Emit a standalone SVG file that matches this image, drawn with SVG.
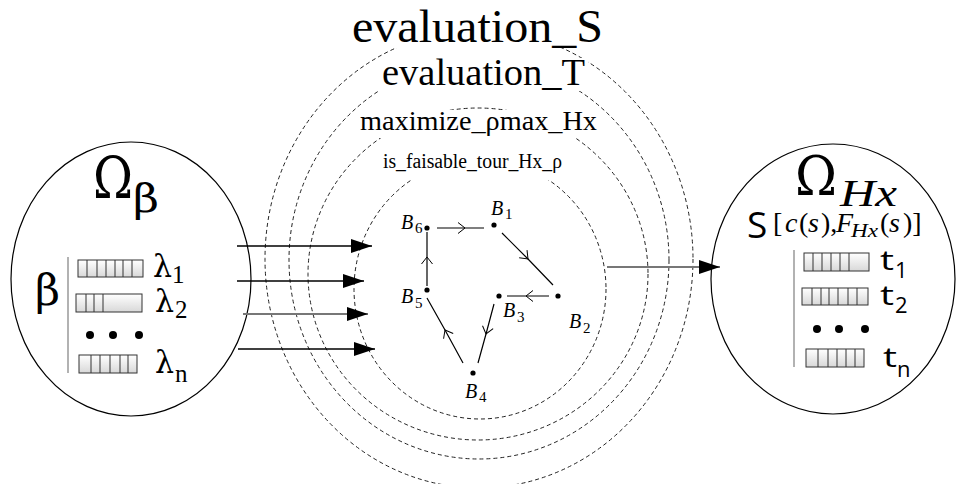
<svg xmlns="http://www.w3.org/2000/svg" width="960" height="484" viewBox="0 0 960 484">
<defs>
<linearGradient id="barg" x1="0" y1="0" x2="0" y2="1">
<stop offset="0" stop-color="#ffffff"/>
<stop offset="1" stop-color="#d8d8d8"/>
</linearGradient>
<marker id="tri" markerUnits="userSpaceOnUse" markerWidth="22" markerHeight="16" refX="21" refY="7" orient="auto">
<path d="M0,0 L21,7 L0,14 Z" fill="#000"/>
</marker>
<marker id="chev" markerUnits="userSpaceOnUse" markerWidth="20" markerHeight="20" refX="10" refY="10" orient="auto">
<path d="M3,4.5 L10,10 L3,15.5" fill="none" stroke="#000" stroke-width="1"/>
</marker>
</defs>
<style>
.serif{font-family:"Liberation Serif","DejaVu Serif",serif;fill:#000}
.greek{font-family:"DejaVu Serif","Liberation Serif",serif;fill:#000}
.sans{font-family:"Open Sans","DejaVu Sans",sans-serif;fill:#000}
.it{font-style:italic}
.dash{fill:none;stroke:#222;stroke-width:1;stroke-dasharray:4 3}
.oval{fill:#fff;stroke:#000;stroke-width:1.2}
.bar{fill:url(#barg);stroke:#333;stroke-width:1}
.cell{stroke:#333;stroke-width:1}
.vl{stroke:#999;stroke-width:1.5}
.arr{stroke:#000;stroke-width:1.3;fill:none;marker-end:url(#tri)}
.arrg{stroke:#777;stroke-width:1.8;fill:none;marker-end:url(#tri)}
.edge{stroke:#000;stroke-width:1.2;fill:none;marker-mid:url(#chev)}
.mask{fill:#fff}
</style>
<rect width="960" height="484" fill="#fff"/>

<g id="evaluation_S">
<ellipse class="dash" cx="479" cy="259" rx="214" ry="229"/>
</g>
<g id="evaluation_T">
<ellipse class="dash" cx="479" cy="260" rx="190" ry="199"/>
</g>
<g id="maximize">
<ellipse class="dash" cx="478" cy="274" rx="170" ry="166"/>
</g>
<g id="is_faisable">
<ellipse class="dash" cx="480" cy="289" rx="126" ry="130"/>
</g>

<g id="labels">
<rect class="mask" x="349" y="2" width="258" height="46"/>
<text class="serif" x="352" y="42" font-size="46" textLength="251" lengthAdjust="spacingAndGlyphs">evaluation_S</text>
<rect class="mask" x="378" y="58" width="210" height="33"/>
<text class="serif" x="382" y="85" font-size="38" textLength="203" lengthAdjust="spacingAndGlyphs">evaluation_T</text>
<rect class="mask" x="356" y="110" width="244" height="28"/>
<text class="serif" x="360" y="130" font-size="27" textLength="237" lengthAdjust="spacingAndGlyphs">maximize_ρmax_Hx</text>
<rect class="mask" x="380" y="150" width="186" height="30"/>
<text class="serif" x="383" y="168" font-size="20" textLength="179" lengthAdjust="spacingAndGlyphs">is_faisable_tour_Hx_ρ</text>
</g>

<g id="omega_beta">
<ellipse class="oval" cx="131" cy="279" rx="120" ry="137"/>
<text class="greek" x="93" y="198" font-size="58" textLength="40" lengthAdjust="spacingAndGlyphs">Ω</text>
<text class="greek" x="133" y="212" font-size="40" textLength="26" lengthAdjust="spacingAndGlyphs">β</text>
<text class="greek" x="35" y="305" font-size="42" textLength="25" lengthAdjust="spacingAndGlyphs">β</text>
<line class="vl" x1="68" y1="257" x2="68" y2="373"/>
<rect class="bar" x="78" y="260" width="65" height="17"/>
<path class="cell" d="M87,260V277M97,260V277M106,260V277M115,260V277M123,260V277M132,260V277"/>
<rect class="bar" x="76" y="294" width="66" height="18"/>
<path class="cell" d="M86,294V312M94,294V312M103,294V312"/>
<circle cx="90" cy="335" r="4"/>
<circle cx="113" cy="335" r="4"/>
<circle cx="139" cy="335" r="4"/>
<rect class="bar" x="79" y="355" width="58" height="18"/>
<path class="cell" d="M91,355V373M100,355V373M110,355V373M120,355V373M128,355V373"/>
<text class="greek" x="153" y="277" font-size="32" textLength="19" lengthAdjust="spacingAndGlyphs">λ</text>
<text class="serif" x="172" y="283" font-size="25">1</text>
<text class="greek" x="155" y="312" font-size="32" textLength="19" lengthAdjust="spacingAndGlyphs">λ</text>
<text class="serif" x="175" y="318" font-size="25">2</text>
<text class="greek" x="155" y="373" font-size="32" textLength="19" lengthAdjust="spacingAndGlyphs">λ</text>
<text class="serif" x="175" y="382" font-size="25">n</text>
</g>

<g id="omega_hx">
<ellipse class="oval" cx="833" cy="279" rx="122" ry="135"/>
<text class="greek" x="795" y="195" font-size="55" textLength="42" lengthAdjust="spacingAndGlyphs">Ω</text>
<text class="serif it" x="840" y="206" font-size="38" textLength="57" lengthAdjust="spacingAndGlyphs">Hx</text>
<text class="sans" x="747" y="238" font-size="37">S</text>
<text class="serif" y="232" font-size="28"><tspan x="773">[</tspan><tspan class="it" x="785">c</tspan><tspan x="799">(</tspan><tspan class="it" x="808">s</tspan><tspan x="821">),</tspan><tspan class="it" x="836">F</tspan></text>
<text class="serif it" x="851" y="237" font-size="18" textLength="27" lengthAdjust="spacingAndGlyphs">Hx</text>
<text class="serif" y="232" font-size="28"><tspan x="880">(</tspan><tspan class="it" x="889">s</tspan><tspan x="903">)]</tspan></text>
<line class="vl" x1="794" y1="250" x2="794" y2="367"/>
<rect class="bar" x="804" y="253" width="65" height="18"/>
<path class="cell" d="M813,253V271M822,253V271M831,253V271M840,253V271M849,253V271"/>
<rect class="bar" x="802" y="288" width="66" height="17"/>
<path class="cell" d="M812,288V305M821,288V305M829,288V305M838,288V305M848,288V305M857,288V305"/>
<circle cx="817" cy="329" r="4"/>
<circle cx="839" cy="329" r="4"/>
<circle cx="865" cy="329" r="4"/>
<rect class="bar" x="806" y="349" width="58" height="18"/>
<path class="cell" d="M818,349V367M828,349V367M837,349V367M846,349V367M855,349V367"/>
<text class="sans" x="880" y="270" font-size="28" textLength="14" lengthAdjust="spacingAndGlyphs">t</text>
<text class="sans" x="895" y="278" font-size="22">1</text>
<text class="sans" x="880" y="305" font-size="28" textLength="14" lengthAdjust="spacingAndGlyphs">t</text>
<text class="sans" x="895" y="313" font-size="22">2</text>
<text class="sans" x="883" y="367" font-size="28" textLength="14" lengthAdjust="spacingAndGlyphs">t</text>
<text class="sans" x="897" y="377" font-size="22">n</text>
</g>

<g id="B1"><circle cx="494" cy="225" r="2.6"/><text class="serif it" x="491" y="215" font-size="20">B</text><text class="serif" x="505" y="219" font-size="15">1</text></g>
<g id="B2"><circle cx="558" cy="296" r="2.6"/><text class="serif it" x="569" y="328" font-size="20">B</text><text class="serif" x="583" y="333" font-size="15">2</text></g>
<g id="B3"><circle cx="499" cy="296" r="2.6"/><text class="serif it" x="503" y="317" font-size="20">B</text><text class="serif" x="517" y="322" font-size="15">3</text></g>
<g id="B4"><circle cx="473" cy="373" r="2.6"/><text class="serif it" x="465" y="398" font-size="20">B</text><text class="serif" x="479" y="402" font-size="15">4</text></g>
<g id="B5"><circle cx="427" cy="290" r="2.6"/><text class="serif it" x="401" y="303" font-size="20">B</text><text class="serif" x="415" y="308" font-size="15">5</text></g>
<g id="B6"><circle cx="427" cy="228" r="2.6"/><text class="serif it" x="401" y="229" font-size="20">B</text><text class="serif" x="415" y="233" font-size="15">6</text></g>

<g id="connectors">
<line class="arr" x1="237" y1="246" x2="372" y2="246"/>
<line class="arr" x1="237" y1="281" x2="364" y2="281"/>
<line class="arrg" x1="243" y1="314" x2="368" y2="314"/>
<line class="arr" x1="238" y1="349" x2="375" y2="349"/>
<line class="arrg" x1="607" y1="267" x2="720" y2="267"/>
<polyline class="edge" points="437,228 465,228 484,228"/>
<polyline class="edge" points="502,233 528,259 553,285"/>
<polyline class="edge" points="549,296 526,296 507,296"/>
<polyline class="edge" points="494,304 486,334 478,363"/>
<polyline class="edge" points="463,363 445,330 427,298"/>
<polyline class="edge" points="427,286 427,257 427,232"/>
</g>
</svg>
